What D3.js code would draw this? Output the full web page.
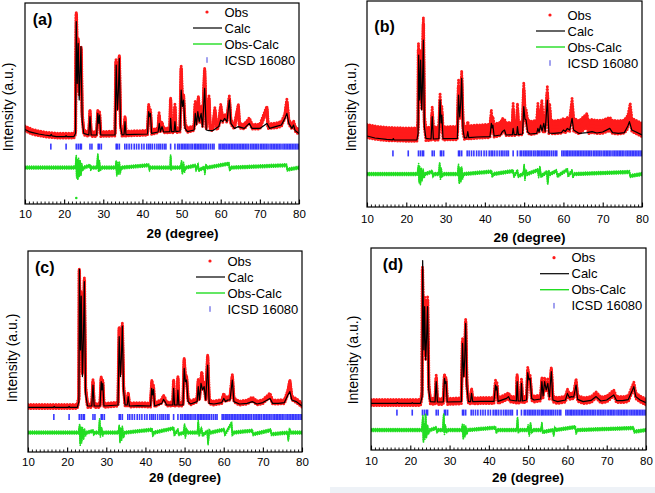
<!DOCTYPE html>
<html><head><meta charset="utf-8">
<script src="https://cdn.jsdelivr.net/npm/d3@7"></script>
<style>
html,body{margin:0;padding:0;background:#fff;}
svg{display:block;font-family:Arial,"Liberation Sans",sans-serif;}
</style></head><body>
<svg id="chart" width="655" height="493"></svg>
<script>
// ---------------- DATA ----------------
const xTickValues = [10, 20, 30, 40, 50, 60, 70, 80];
const legendLabels = ["Obs", "Calc", "Obs-Calc", "ICSD 16080"];
const panelLabels = ["(a)", "(b)", "(c)", "(d)"];

// ICSD 16080 reflection positions (2θ, degree)
const icsd16080 = [16.6, 20.5, 23.1, 23.6, 24.1, 24.4, 26.6, 27.1, 28.7, 29.0, 29.5, 33.3, 33.6, 34.1, 35.5, 36.0, 36.6, 37.2, 37.9, 38.5, 39.1, 39.8, 40.4, 41.1, 41.6, 42.0, 42.5, 43.1, 43.7, 44.2, 44.6, 45.1, 45.6, 46.0, 47.2, 48.3, 49.0, 49.4, 49.9, 50.3, 50.7, 51.1, 51.5, 51.9, 52.4, 52.8, 53.3, 53.6, 54.0, 54.4, 54.8, 55.2, 55.6, 56.0, 56.4, 56.9, 57.4, 57.9, 58.3, 59.6, 60.0, 60.4, 60.8, 61.1, 61.5, 61.9, 62.3, 62.7, 63.1, 63.5, 63.9, 64.3, 64.7, 65.1, 65.5, 65.9, 66.3, 66.7, 67.1, 67.6, 68.0, 68.4, 68.8, 69.2, 69.6, 70.1, 70.5, 70.9, 71.3, 71.7, 72.1, 72.6, 73.0, 73.4, 73.8, 74.2, 74.6, 75.0, 75.4, 75.9, 76.3, 76.7, 77.1, 77.5, 77.9, 78.3, 78.7, 79.1, 79.5, 79.9];

// Panel (a)
const calcA = [[10,373],[11,362],[12,357],[13.5,350],[15,345],[16.5,341],[16.7,348],[16.9,341],[18,337],[20.3,337],[20.5,342],[20.7,337],[22.5,337],[22.9,353],[23.1,912],[23.35,603],[23.6,803],[23.85,520],[24.05,640],[24.3,787],[24.6,420],[25.0,353],[26.3,345],[26.6,437],[26.9,345],[28.3,345],[28.6,453],[28.85,403],[29.05,445],[29.35,345],[33.0,345],[33.3,695],[33.6,470],[33.85,560],[34.1,728],[34.4,387],[34.8,345],[35.3,347],[35.55,412],[35.8,347],[38,348],[41.3,350],[41.6,462],[41.85,437],[42.05,453],[42.35,353],[44.0,360],[44.3,403],[44.6,362],[45.0,387],[45.4,360],[47.0,362],[47.2,428],[47.45,362],[48.1,362],[48.3,412],[48.55,362],[49.6,365],[49.9,570],[50.2,487],[50.5,520],[50.9,378],[51.5,362],[53.2,370],[53.5,453],[53.8,395],[54.15,462],[54.5,412],[55.0,453],[55.35,385],[55.9,578],[56.3,370],[57,367],[58,367],[59.5,387],[60.0,420],[60.5,412],[61.0,428],[61.6,412],[62.2,520],[62.6,403],[63.5,378],[64.5,387],[66.0,378],[67.3,403],[68,378],[70,378],[71.8,403],[72.5,378],[74,387],[75.5,395],[76.4,428],[76.9,453],[77.4,403],[78.2,378],[78.6,395],[79,367],[80,353]];
const obsA = [[10,378],[12,360],[15,348],[18,342],[22.5,342],[22.9,360],[23.0,700],[23.1,950],[23.2,880],[23.35,640],[23.5,760],[23.6,820],[23.8,560],[24.0,660],[24.2,740],[24.35,778],[24.6,450],[25.0,358],[26.3,350],[26.6,462],[26.9,350],[28.3,350],[28.6,460],[28.85,410],[29.05,450],[29.35,350],[33.0,352],[33.25,712],[33.6,480],[33.85,580],[34.1,735],[34.4,400],[34.8,350],[35.3,352],[35.55,430],[35.8,352],[38,354],[41.3,356],[41.6,487],[41.85,440],[42.05,460],[42.35,360],[44.0,368],[44.25,445],[44.6,372],[45.0,400],[45.4,368],[47.0,368],[47.2,520],[47.45,368],[48.1,368],[48.3,487],[48.55,368],[49.6,372],[49.9,678],[50.2,500],[50.5,540],[50.9,390],[51.5,370],[53.2,380],[53.5,503],[53.8,410],[54.3,528],[54.6,420],[55.0,480],[55.35,400],[55.9,670],[56.3,385],[57,528],[57.3,382],[58,378],[58.5,470],[59,382],[59.5,395],[60.0,487],[60.5,420],[61.0,440],[61.6,420],[62.2,528],[62.6,410],[63.5,387],[64.5,487],[64.8,392],[66.0,387],[67.3,420],[68,387],[70,387],[71.8,478],[72.1,390],[74,392],[75.5,400],[76.4,440],[76.9,512],[77.4,410],[78.2,387],[78.6,405],[79,377],[80,358]];
const diffA = [[10,0],[22.8,0],[23.0,20],[23.1,55],[23.2,-45],[23.35,35],[23.5,-55],[23.7,40],[23.9,-40],[24.1,30],[24.3,-35],[24.5,15],[24.7,-10],[25,0],[26.6,10],[26.8,-8],[27,0],[28.4,0],[28.6,65],[28.8,-15],[29.0,30],[29.2,-10],[29.5,0],[33.1,0],[33.3,30],[33.45,-37],[33.7,20],[33.9,-30],[34.1,25],[34.3,-25],[34.6,0],[41.6,12],[41.8,-10],[42,0],[47.1,0],[47.2,58],[47.35,-5],[47.6,0],[49.8,0],[50.0,30],[50.2,-28],[50.5,20],[50.7,-20],[51,0],[53.5,10],[53.7,-10],[54.2,15],[54.4,-12],[55.8,0],[55.95,-28],[56.2,10],[56.5,0],[62.1,20],[62.3,-10],[62.6,0],[76.8,12],[77,-10],[80,0]];
const diffOutlierA = [[23.1,-152]];

// Panel (b)
const calcB = [[10,355],[12,345],[15,338],[16.5,336],[16.7,342],[16.9,336],[20,335],[22.7,335],[23.0,368],[23.15,760],[23.4,535],[23.65,735],[23.9,485],[24.1,600],[24.35,835],[24.6,402],[25.0,343],[26.3,340],[26.6,452],[26.9,340],[28.3,342],[28.6,535],[28.85,420],[29.05,460],[29.35,342],[33.0,343],[33.3,560],[33.6,450],[33.85,520],[34.1,643],[34.45,385],[34.8,345],[35.4,347],[35.65,377],[35.9,347],[38,350],[41.3,352],[41.65,418],[41.85,395],[42.05,410],[42.35,355],[44.0,360],[44.5,378],[45.0,385],[45.4,360],[47.0,362],[47.2,393],[47.45,362],[48.1,362],[48.3,402],[48.55,362],[49.6,365],[49.9,502],[50.2,440],[50.5,435],[50.9,375],[51.5,365],[53.2,368],[53.5,393],[53.8,375],[54.2,410],[54.55,380],[55.0,418],[55.35,378],[55.9,535],[56.3,370],[57.5,368],[59.5,372],[60.0,385],[60.5,378],[61.0,393],[61.6,385],[62.2,443],[62.6,385],[64,368],[66,372],[67.3,377],[68.5,370],[70,375],[71.8,393],[72.5,372],[74,368],[75.5,372],[76.4,405],[76.8,427],[77.4,385],[78.5,375],[80,360]];
const obsB = [[10,380],[12,372],[15,365],[20,362],[22.7,362],[23.0,400],[23.1,785],[23.3,600],[23.5,700],[23.65,750],[23.9,520],[24.1,640],[24.35,915],[24.6,430],[25,365],[26.3,367],[26.6,468],[26.9,367],[28.3,368],[28.6,538],[28.85,430],[29.05,470],[29.35,368],[33.0,370],[33.3,602],[33.6,470],[33.85,540],[34.1,648],[34.45,400],[34.8,372],[35.4,373],[35.65,395],[35.9,373],[38,377],[41.3,380],[41.65,452],[41.85,405],[42.05,420],[42.35,383],[44,390],[44.5,410],[45,405],[45.4,390],[47.0,390],[47.2,485],[47.45,390],[48.1,393],[48.3,485],[48.55,393],[49.6,395],[49.9,588],[50.2,465],[50.5,455],[50.9,405],[51.5,395],[53.2,400],[53.5,485],[53.8,405],[54.2,440],[54.5,502],[54.8,405],[55.0,430],[55.35,405],[55.9,568],[56.3,398],[56.5,485],[56.8,400],[57.5,398],[59.5,402],[60,410],[60.5,405],[61,415],[61.6,410],[62.2,510],[62.6,412],[64,398],[66,435],[66.3,400],[67.3,405],[68.5,400],[70,402],[71.8,415],[72.5,400],[74,398],[75.5,402],[76.4,425],[77,485],[77.4,410],[78.5,400],[80,385]];
const diffB = [[10,0],[22.8,0],[23.0,25],[23.15,45],[23.3,-40],[23.45,30],[23.6,-47],[23.8,25],[24.0,-30],[24.3,20],[24.5,-15],[24.8,0],[26.6,12],[26.8,-10],[27,0],[28.3,0],[28.5,53],[28.7,-20],[28.9,25],[29.1,-10],[29.4,0],[33.1,0],[33.3,42],[33.5,-43],[33.7,25],[33.9,-35],[34.1,30],[34.3,-20],[34.6,0],[41.7,12],[41.9,-10],[42.2,0],[47.2,15],[47.4,-10],[48.3,15],[48.5,-10],[49.8,0],[50.0,45],[50.2,-25],[50.5,15],[50.8,0],[53.5,20],[53.7,-12],[54.0,33],[54.3,-10],[55.8,10],[56.0,-47],[56.3,10],[56.6,0],[58.2,15],[58.5,-10],[61.0,22],[61.2,-8],[62.2,15],[62.4,-12],[62.8,0],[76.8,10],[77,-10],[80,0]];

// Panel (c)
const calcC = [[10,223],[16.5,223],[16.7,228],[16.9,223],[20.3,223],[20.5,228],[20.7,223],[22.6,223],[23.0,252],[23.15,913],[23.4,510],[23.6,780],[23.9,377],[24.15,560],[24.4,852],[24.7,293],[25.2,230],[26.3,230],[26.6,335],[26.9,230],[28.4,230],[28.7,352],[28.9,310],[29.1,343],[29.4,230],[33.0,235],[33.3,577],[33.6,377],[33.85,470],[34.1,630],[34.4,310],[34.8,235],[35.35,235],[35.6,277],[35.9,230],[38,232],[41.3,230],[41.6,318],[41.85,285],[42.05,313],[42.35,230],[44.2,243],[44.6,263],[45.0,252],[45.4,235],[47.0,235],[47.2,318],[47.45,235],[48.1,235],[48.3,310],[48.55,235],[49.6,235],[49.9,418],[50.2,352],[50.5,360],[50.9,252],[51.5,240],[53.2,252],[53.5,327],[53.8,260],[54.2,343],[54.6,310],[55.0,327],[55.4,260],[55.9,435],[56.3,243],[57.5,240],[59.5,247],[60.0,268],[60.5,252],[61.0,260],[61.6,260],[62.2,360],[62.6,252],[64,240],[66,243],[67.3,252],[68.5,240],[70,247],[71.8,268],[72.5,243],[74,243],[75.5,247],[76.4,285],[76.9,302],[77.4,260],[78.5,252],[80,230]];
const obsC = [[10,228],[16.5,227],[20.3,227],[22.6,227],[23.0,270],[23.1,910],[23.3,700],[23.45,560],[23.6,793],[23.9,400],[24.15,600],[24.4,860],[24.7,320],[25.2,233],[26.3,233],[26.6,352],[26.9,233],[28.4,233],[28.7,368],[28.9,325],[29.1,350],[29.4,233],[33.0,240],[33.3,618],[33.6,400],[33.85,500],[34.1,635],[34.4,330],[34.8,240],[35.35,240],[35.6,290],[35.9,235],[38,237],[41.3,235],[41.65,352],[41.85,300],[42.05,325],[42.35,235],[44.2,255],[44.6,275],[45.0,262],[45.4,240],[47.0,240],[47.2,352],[47.45,240],[48.1,240],[48.3,368],[48.55,240],[49.6,240],[49.9,460],[50.2,370],[50.5,375],[50.9,262],[51.5,245],[53.2,260],[53.5,355],[53.8,268],[54.2,360],[54.4,393],[54.7,320],[55.0,340],[55.4,268],[55.9,477],[56.3,250],[57.5,245],[59.5,252],[60.0,285],[60.5,260],[61.0,270],[61.6,268],[62.2,377],[62.6,260],[64,245],[66,250],[67.3,265],[68.5,245],[70,252],[71.8,285],[72.5,250],[74,250],[75.5,252],[76.4,300],[76.9,352],[77.4,270],[78.5,258],[80,235]];
const diffC = [[10,0],[22.9,0],[23.05,15],[23.2,38],[23.35,-57],[23.5,25],[23.7,-45],[23.9,20],[24.2,-30],[24.4,15],[24.7,-10],[25,0],[26.6,8],[26.8,-8],[27,0],[28.1,0],[28.3,63],[28.5,-15],[28.8,20],[29.1,-10],[29.4,0],[33.1,0],[33.3,33],[33.5,-45],[33.7,20],[33.9,-35],[34.1,25],[34.4,-20],[34.7,0],[41.7,15],[41.9,-12],[42.2,0],[47.2,22],[47.4,-10],[47.7,0],[48.3,12],[48.5,-8],[49.8,0],[50.0,38],[50.2,-20],[50.5,15],[50.8,0],[53.3,0],[53.5,55],[53.7,-12],[54.3,20],[54.6,-12],[55.8,5],[56.0,-57],[56.3,10],[56.6,0],[60.1,15],[60.3,-10],[62.0,47],[62.2,-10],[62.5,0],[67.3,10],[67.5,-8],[72,12],[72.2,-8],[76.3,0],[76.5,-37],[76.8,15],[77.2,0],[80,0]];

// Panel (d)
const calcD = [[10,233],[16.5,233],[16.7,237],[16.9,233],[20.3,233],[20.5,237],[20.7,233],[22.6,233],[23.0,267],[23.15,947],[23.45,500],[23.65,717],[23.9,450],[24.15,560],[24.4,717],[24.7,300],[25.1,242],[26.3,240],[26.6,342],[26.9,240],[28.4,240],[28.7,358],[28.9,333],[29.1,342],[29.4,240],[33.0,242],[33.3,533],[33.6,367],[33.85,450],[34.1,633],[34.4,317],[34.8,242],[35.35,242],[35.6,283],[35.9,242],[38,243],[41.3,243],[41.7,325],[41.85,300],[42.05,317],[42.35,243],[44.5,258],[45.0,267],[45.4,250],[47.0,245],[47.2,342],[47.45,245],[48.1,245],[48.3,333],[48.55,245],[49.6,250],[49.9,387],[50.2,350],[50.5,358],[50.9,258],[51.5,250],[53.2,255],[53.5,342],[53.8,270],[54.2,342],[54.6,300],[55.0,333],[55.4,265],[55.9,392],[56.3,250],[57.5,242],[59.5,250],[60.0,283],[60.5,262],[61.0,267],[61.6,265],[62.2,325],[62.6,253],[64,242],[66,248],[67.3,267],[68.5,245],[70,250],[71.8,275],[72.5,247],[74,247],[75.5,252],[76.4,292],[76.9,317],[77.4,267],[78.5,250],[80,237]];
const obsD = [[10,238],[16.5,237],[20.3,237],[22.6,237],[23.0,280],[23.1,900],[23.3,650],[23.5,560],[23.65,750],[23.9,470],[24.15,600],[24.4,750],[24.7,320],[25.1,245],[26.3,243],[26.6,360],[26.9,243],[28.4,243],[28.7,367],[28.9,340],[29.1,350],[29.4,243],[33.0,246],[33.3,542],[33.6,380],[33.85,470],[34.1,640],[34.4,330],[34.8,246],[35.35,246],[35.6,295],[35.9,246],[38,247],[41.3,247],[41.7,335],[41.85,305],[42.05,325],[42.35,247],[44.5,265],[45.0,272],[45.4,255],[47.0,250],[47.2,367],[47.45,250],[48.1,250],[48.3,345],[48.55,250],[49.6,255],[49.9,400],[50.2,358],[50.5,362],[50.9,262],[51.5,255],[53.2,260],[53.5,350],[53.8,275],[54.2,348],[54.6,305],[55.0,340],[55.4,270],[55.9,400],[56.3,255],[57.5,247],[59.5,255],[60.0,290],[60.5,267],[61.0,272],[61.6,270],[62.2,342],[62.6,258],[64,247],[66,252],[67.3,275],[68.5,250],[70,255],[71.8,285],[72.5,252],[74,252],[75.5,257],[76.4,300],[76.9,325],[77.4,272],[78.5,255],[80,240]];
const diffD = [[10,0],[22.9,0],[23.05,20],[23.2,67],[23.35,-58],[23.5,30],[23.7,-40],[23.9,75],[24.1,-35],[24.4,20],[24.6,-15],[25,0],[26.6,10],[26.8,-8],[27,0],[28.3,0],[28.5,75],[28.7,-15],[28.9,20],[29.2,-8],[29.5,0],[33.1,0],[33.3,25],[33.5,-42],[33.7,20],[33.9,-30],[34.1,15],[34.4,-15],[34.7,0],[41.7,12],[41.9,-10],[42.2,0],[47.1,0],[47.3,58],[47.5,-8],[47.8,0],[49.8,0],[50.0,20],[50.3,-25],[50.6,33],[50.9,-10],[51.2,0],[53.3,0],[53.5,33],[53.7,-10],[56.3,0],[56.5,-25],[56.8,10],[57,0],[62,15],[62.2,-15],[62.5,0],[76.8,10],[77,-8],[80,0]];

// per-panel scatter half-widths and offsets (intensity units)
const obsSpread = [12, 33, 10, 15];
const diffSpread = [7, 7, 7, 7];
const diffOffset = [182, 165, 97, 100];
const tickLevel = [287, 268, 175, 187];

// ---------------- LAYOUT ----------------
const layouts = [
  {left:25, right:299, top:3, bottom:204, yMax:1005, labelX:32.7, labelY:24.5, yTitleX:8.3, yTitleY:107, xTitleX:182.5, xTitleY:238, legendY:12, tickPad:6},
  {left:367, right:642, top:1, bottom:207, yMax:1030, labelX:374.3, labelY:31.5, yTitleX:350.7, yTitleY:107, xTitleX:529.5, xTitleY:242, legendY:15, tickPad:8},
  {left:28, right:302, top:251, bottom:452, yMax:1005, labelX:35, labelY:273, yTitleX:11.7, yTitleY:358, xTitleX:185, xTitleY:482, legendY:261, tickPad:6},
  {left:371, right:646, top:248, bottom:450, yMax:1010, labelX:382.7, labelY:270, yTitleX:353.3, yTitleY:360, xTitleX:528, xTitleY:482, legendY:257.7, tickPad:7}
];
const calcs = [calcA, calcB, calcC, calcD];
const obss = [obsA, obsB, obsC, obsD];
const diffs = [diffA, diffB, diffC, diffD];
const outliers = [diffOutlierA, [], [], []];

const RED = "#ff1a1a", GREEN = "#22dd22", BLUE = "#2424ff";
const svg = d3.select("#chart");
svg.append("rect").attr("x",330).attr("y",487).attr("width",325).attr("height",6).attr("fill","#eef2f7");

layouts.forEach((L, i) => {
  const x = d3.scaleLinear().domain([10, 80]).range([L.left, L.right]);
  const y = d3.scaleLinear().domain([0, L.yMax]).range([L.bottom, L.top]);
  const g = svg.append("g");
  const clipId = "clip" + i;
  g.append("clipPath").attr("id", clipId).append("rect")
    .attr("x", L.left).attr("y", L.top).attr("width", L.right - L.left).attr("height", L.bottom - L.top);
  const plot = g.append("g").attr("clip-path", `url(#${clipId})`);

  // ICSD ticks
  plot.append("g").selectAll("rect").data(icsd16080).join("rect")
    .attr("x", d => x(d) - 0.8).attr("width", 1.6)
    .attr("y", y(tickLevel[i]) - 3).attr("height", 6)
    .attr("fill", BLUE).attr("opacity", 0.9);

  // Difference curve
  const off = diffOffset[i], ds = diffSpread[i];
  const dArea = d3.area().x(d => x(d[0])).y0(d => y(off + d[1] - ds)).y1(d => y(off + d[1] + ds));
  plot.append("path").attr("d", dArea(diffs[i])).attr("fill", GREEN);
  [ -ds, ds ].forEach(o => {
    plot.append("path").attr("d", d3.line().x(d => x(d[0])).y(d => y(off + d[1] + o))(diffs[i]))
      .attr("fill", "none").attr("stroke", GREEN).attr("stroke-width", 1.7)
      .attr("stroke-dasharray", "0,2.2").attr("stroke-linecap", "round");
  });
  plot.append("path").attr("d", d3.line().x(d => x(d[0])).y(d => y(off + d[1]))(diffs[i]))
    .attr("fill", "none").attr("stroke", GREEN).attr("stroke-width", 1.6);
  plot.selectAll("circle.out").data(outliers[i]).join("circle").attr("class","out")
    .attr("cx", d => x(d[0])).attr("cy", d => y(off + d[1])).attr("r", 1.3).attr("fill", GREEN);

  // Observed band
  const os = obsSpread[i];
  const oArea = d3.area().x(d => x(d[0])).y0(d => y(d[1] - os)).y1(d => y(d[1] + os));
  plot.append("path").attr("d", oArea(obss[i])).attr("fill", RED);
  [ -os, os ].forEach(o => {
    plot.append("path").attr("d", d3.line().x(d => x(d[0])).y(d => y(d[1] + o))(obss[i]))
      .attr("fill", "none").attr("stroke", RED).attr("stroke-width", 3)
      .attr("stroke-dasharray", "0,2.8").attr("stroke-linecap", "round");
  });
  plot.append("path").attr("d", d3.line().x(d => x(d[0])).y(d => y(d[1]))(obss[i]))
    .attr("fill", "none").attr("stroke", RED).attr("stroke-width", 3.6)
    .attr("stroke-dasharray", "0,2.4").attr("stroke-linecap", "round");

  // Calculated line
  plot.append("path").attr("d", d3.line().x(d => x(d[0])).y(d => y(d[1]))(calcs[i]))
    .attr("fill", "none").attr("stroke", "#000").attr("stroke-width", 1.2).attr("stroke-linejoin", "round");

  // Frame
  g.append("rect").attr("x", L.left).attr("y", L.top)
    .attr("width", L.right - L.left).attr("height", L.bottom - L.top)
    .attr("fill", "none").attr("stroke", "#000").attr("stroke-width", 1.2);

  // Axis: major + minor ticks pointing inward
  const minor = d3.range(10, 81, 1).filter(v => v % 10 !== 0);
  g.append("g").attr("transform", `translate(0,${L.bottom})`)
    .call(d3.axisBottom(x).tickValues(minor).tickSize(-2.5).tickFormat(""))
    .call(a => a.select(".domain").remove())
    .call(a => a.selectAll("line").attr("stroke", "#000").attr("stroke-width", 0.9));
  const ax = g.append("g").attr("transform", `translate(0,${L.bottom})`)
    .call(d3.axisBottom(x).tickValues(xTickValues).tickSizeInner(-4.5).tickSizeOuter(0).tickPadding(L.tickPad).tickFormat(d3.format("d")));
  ax.select(".domain").remove();
  ax.selectAll("line").attr("stroke", "#000").attr("stroke-width", 1.1);
  ax.selectAll("text").attr("font-size", "11.5px").attr("fill", "#000")
    .attr("font-family", "Arial, 'Liberation Sans', sans-serif");

  // Titles
  g.append("text").attr("x", L.xTitleX).attr("y", L.xTitleY).attr("text-anchor", "middle")
    .attr("font-size", "13.5px").attr("font-weight", "bold").text("2θ (degree)");
  g.append("text").attr("transform", `translate(${L.yTitleX},${L.yTitleY}) rotate(-90)`)
    .attr("text-anchor", "middle").attr("dominant-baseline", "central")
    .attr("font-size", "14px").text("Intensity (a.u.)");
  g.append("text").attr("x", L.labelX).attr("y", L.labelY)
    .attr("font-size", "16px").attr("font-weight", "bold").text(panelLabels[i]);

  // Legend
  const tx = L.right - 74.5, mx = L.right - 92, lx0 = L.right - 106, lx1 = L.right - 77;
  legendLabels.forEach((lab, k) => {
    const cy = L.legendY + k * 16;
    g.append("text").attr("x", tx).attr("y", cy).attr("dy", "0.36em")
      .attr("font-size", "13px").attr("fill", "#000").text(lab);
    if (k === 0) g.append("circle").attr("cx", mx).attr("cy", cy).attr("r", 1.6).attr("fill", RED);
    if (k === 1) g.append("line").attr("x1", lx0).attr("x2", lx1).attr("y1", cy).attr("y2", cy).attr("stroke", "#000").attr("stroke-width", 1.2);
    if (k === 2) g.append("line").attr("x1", lx0).attr("x2", lx1).attr("y1", cy).attr("y2", cy).attr("stroke", GREEN).attr("stroke-width", 1.4);
    if (k === 3) g.append("rect").attr("x", mx - 0.7).attr("y", cy - 2.8).attr("width", 1.4).attr("height", 5.6).attr("fill", "#7a7ae8");
  });
});
</script>
</body></html>
